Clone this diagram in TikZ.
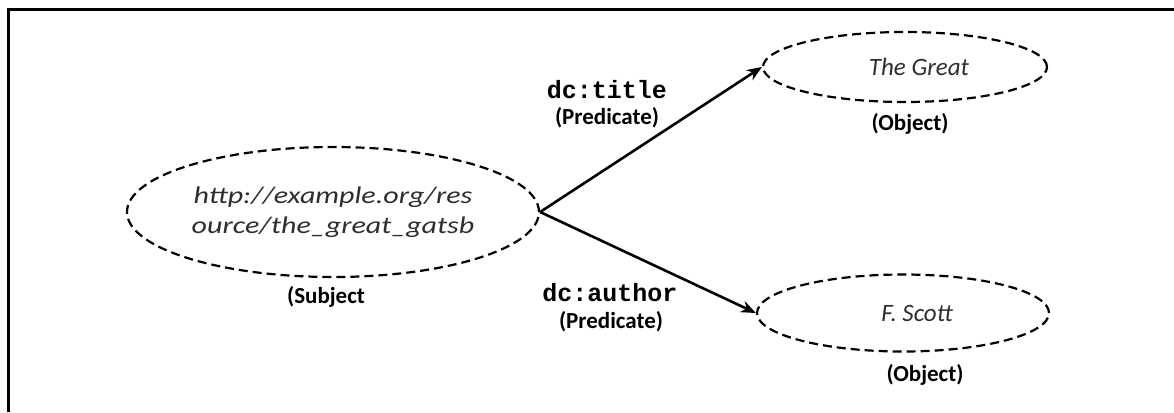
\documentclass[tikz,border=0pt]{standalone}
\usepackage{fontspec}
\setmainfont{Carlito}
\newfontfamily\codefont{Liberation Mono}
\usetikzlibrary{shapes.geometric,arrows.meta}
\tikzset{
  res/.style={ellipse, draw=black, line width=2.2pt, dash pattern=on 9pt off 5pt,
    inner sep=0pt, align=center, font=\fontsize{25}{26}\selectfont\itshape, text=black!82},
  role/.style={font=\fontsize{23}{24}\selectfont\bfseries, inner sep=0pt},
  pred/.style={font=\codefont\fontsize{25}{26}\selectfont\bfseries, inner sep=0pt},
  link/.style={line width=2.6pt, -{Stealth[length=15pt,width=12pt]}}
}
\begin{document}
\begin{tikzpicture}[x=1pt,y=-1pt]
\useasboundingbox (0,0) rectangle (1174,412);
\draw[line width=3pt] (8.5,412) -- (8.5,9.5) -- (1174,9.5);
\node[res, minimum width=412pt, minimum height=130pt] (s) at (333,212)
  {\scalebox{1.25}[1]{\fontsize{24}{30}\selectfont\itshape
   \begin{tabular}{@{}c@{}}http://example.org/res\\ource/the\_great\_gatsb\end{tabular}}};
\node[res, minimum width=284pt, minimum height=70pt] (o1) at (905,67) {\hspace{28pt}The Great};
\node[res, minimum width=292pt, minimum height=77pt] (o2) at (903,313) {\hspace{28pt}F. Scott};
\node[role] (sl) at (326,297) {(Subject};
\node[role] (o1l) at (910,124) {(Object)};
\node[role] (o2l) at (925,375) {(Object)};
\node[pred] (p1) at (607,90) {dc:title};
\node[role] (p1l) at (607,118) {(Predicate)};
\node[pred] (p2) at (610,293) {dc:author};
\node[role] (p2l) at (611,322) {(Predicate)};
\draw[link] (s.east) -- (o1.west);
\draw[link] (s.east) -- (o2.west);
\end{tikzpicture}
\end{document}
